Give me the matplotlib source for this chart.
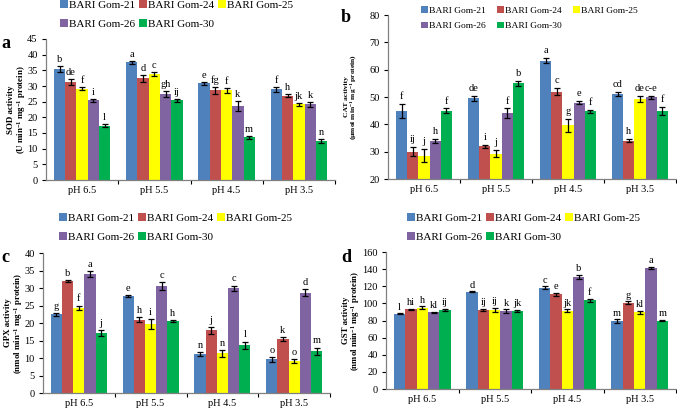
import numpy as np
import matplotlib
matplotlib.use("Agg")
import matplotlib.pyplot as plt

plt.rcParams["font.family"] = ["Liberation Serif", "DejaVu Serif"]
plt.rcParams["mathtext.fontset"] = "custom"
plt.rcParams["mathtext.rm"] = "Liberation Serif:bold"
plt.rcParams["mathtext.it"] = "Liberation Serif:bold"
plt.rcParams["mathtext.bf"] = "Liberation Serif:bold"

groups = ["pH 6.5", "pH 5.5", "pH 4.5", "pH 3.5"]
cultivars = ["BARI Gom-21", "BARI Gom-24", "BARI Gom-25", "BARI Gom-26", "BARI Gom-30"]
colors = ["#4F81BD", "#C0504D", "#FFFF00", "#8064A2", "#00B050"]

# rows = cultivar, columns = pH group
sod = [[35.5, 37.6, 30.8, 28.9],
       [31.3, 32.4, 28.6, 26.9],
       [29.2, 33.9, 28.7, 24.1],
       [25.4, 27.4, 23.6, 24.1],
       [17.3, 25.4, 13.6, 12.5]]
sod_err = [[1.0, 0.5, 0.6, 0.8],
           [1.0, 1.0, 1.0, 0.5],
           [0.4, 0.7, 0.8, 0.4],
           [0.6, 1.0, 1.5, 0.7],
           [0.5, 0.5, 0.6, 0.6]]
sod_sig = [["b", "a", "e", "f"],
           ["de", "d", "fg", "h"],
           ["f", "c", "f", "jk"],
           ["i", "gh", "k", "k"],
           ["l", "ij", "m", "n"]]

cat = [[45.0, 49.5, 63.3, 51.1],
       [30.0, 32.0, 52.0, 34.0],
       [28.5, 29.3, 39.6, 49.2],
       [34.0, 44.0, 47.9, 49.9],
       [45.0, 55.0, 44.8, 44.9]]
cat_err = [[2.6, 1.0, 1.0, 0.9],
           [1.7, 0.6, 1.4, 0.6],
           [2.4, 1.3, 2.3, 1.1],
           [0.8, 1.8, 0.6, 0.5],
           [0.8, 0.8, 0.6, 1.5]]
cat_sig = [["f", "de", "a", "cd"],
           ["ij", "i", "c", "h"],
           ["j", "j", "g", "de"],
           ["h", "f", "e", "c-e"],
           ["f", "b", "f", "f"]]

gpx = [[22.5, 27.7, 11.1, 9.6],
       [32.0, 21.0, 17.9, 15.5],
       [24.4, 19.7, 11.3, 9.2],
       [34.0, 30.5, 29.9, 28.6],
       [17.2, 20.6, 13.6, 12.0]]
gpx_err = [[0.4, 0.4, 0.5, 0.8],
           [0.4, 0.6, 0.9, 0.5],
           [0.6, 1.5, 1.0, 0.5],
           [0.8, 1.2, 0.8, 1.0],
           [0.8, 0.3, 1.1, 1.0]]
gpx_sig = [["g", "e", "n", "o"],
           ["b", "h", "j", "k"],
           ["f", "i", "n", "o"],
           ["a", "c", "c", "d"],
           ["j", "h", "l", "m"]]

gst = [[88.0, 113.5, 118.5, 79.0],
       [93.0, 92.5, 110.5, 101.0],
       [95.0, 92.5, 91.5, 89.5],
       [89.5, 91.0, 131.0, 141.5],
       [92.5, 91.5, 103.5, 80.0]]
gst_err = [[0.5, 0.5, 1.5, 2.5],
           [0.5, 1.0, 1.5, 1.5],
           [1.5, 2.5, 1.5, 1.5],
           [0.5, 2.0, 2.5, 1.5],
           [1.5, 1.0, 1.5, 0.5]]
gst_sig = [["l", "d", "c", "m"],
           ["hi", "ij", "e", "g"],
           ["h", "ij", "jk", "kl"],
           ["kl", "k", "b", "a"],
           ["ij", "jk", "f", "m"]]

W, H = 677, 411
fig = plt.figure(figsize=(W / 100, H / 100), dpi=100)


def px_axes(left, top, right, bottom):
    ax = fig.add_axes([left / W, 1 - bottom / H, (right - left) / W, (bottom - top) / H])
    return ax, left, right - left


def panel(axinfo, vals, errs, sigs, ylim, step, ylabel, letter_off, label_x, label_size):
    ax, left, width = axinfo
    bw = 0.156
    x = np.arange(len(groups))
    for j in range(len(cultivars)):
        xs = x + (j - 2) * bw
        v = np.array(vals[j])
        e = np.array(errs[j])
        ax.bar(xs, v - ylim[0], bw, bottom=ylim[0], color=colors[j], label=cultivars[j])
        ax.errorbar(xs, v, yerr=e, fmt="none", ecolor="black", elinewidth=0.9,
                    capsize=2.2, capthick=0.9)
        for xi, vi, ei, s in zip(xs, v, e, sigs[j]):
            ax.text(xi, vi + ei + letter_off, s, ha="center", va="bottom", fontsize=7.5)
    ax.set_xlim(-0.5, len(groups) - 0.5)
    ax.set_ylim(*ylim)
    ax.set_yticks(np.arange(ylim[0], ylim[1] + 0.1, step))
    ax.set_xticks(x)
    ax.set_xticklabels(groups)
    ax.set_xticks(np.arange(0.5, len(groups), 1.0), minor=True)
    ax.tick_params(axis="x", which="major", length=0, labelsize=7.5, pad=4)
    ax.tick_params(axis="x", which="minor", length=3, width=0.8, direction="out")
    ax.tick_params(axis="y", length=3, width=0.8, labelsize=7.5, pad=3)
    for s in ["top", "right"]:
        ax.spines[s].set_visible(False)
    for s in ["left", "bottom"]:
        ax.spines[s].set_color("#808080")
        ax.spines[s].set_linewidth(0.9)
    ax.set_ylabel(ylabel, fontsize=label_size, fontweight="bold", linespacing=1.0, va="center")
    ax.yaxis.set_label_coords((label_x - left) / width, 0.5)


ax_a = px_axes(46, 39, 335, 180)
panel(ax_a, sod, sod_err, sod_sig, (0, 45), 5,
      "SOD activity\n(U min$^{-1}$ mg$^{-1}$ protein)", 0.6, 17, 6.4)
ax_b = px_axes(388, 15, 676, 179)
panel(ax_b, cat, cat_err, cat_sig, (20, 80), 10,
      "CAT activity\n(\u00b5mol min$^{-1}$ mg$^{-1}$ protein)", 1.0, 351, 5.4)
ax_c = px_axes(43, 253, 330, 393)
panel(ax_c, gpx, gpx_err, gpx_sig, (0, 40), 5,
      "GPX activity\n(nmol min$^{-1}$ mg$^{-1}$ protein)", 0.6, 15, 6.4)
ax_d = px_axes(386, 252, 676, 389)
panel(ax_d, gst, gst_err, gst_sig, (0, 160), 20,
      "GST activity\n(nmol min$^{-1}$ mg$^{-1}$ protein)", 2.0, 352, 6.3)

handles, labels = ax_a[0].get_legend_handles_labels()
# matplotlib fills legend columns first; reorder so rows read 21, 24, 25 / 26, 30
order = [0, 3, 1, 4, 2]
handles = [handles[i] for i in order]
labels = [labels[i] for i in order]
leg_kw = dict(ncol=3, frameon=False, handlelength=0.7, handleheight=0.7,
              handletextpad=0.15, columnspacing=0.3, labelspacing=0.85,
              borderaxespad=0, borderpad=0)
fig.legend(handles, labels, loc="upper left", bbox_to_anchor=(60 / W, 1 - 0 / H),
           prop={"size": 8}, **leg_kw)
fig.legend(handles, labels, loc="upper left", bbox_to_anchor=(59 / W, 1 - 213 / H),
           prop={"size": 8}, **leg_kw)
fig.legend(handles, labels, loc="upper left", bbox_to_anchor=(407 / W, 1 - 213 / H),
           prop={"size": 8}, **leg_kw)
leg_b = dict(leg_kw, columnspacing=1.2, labelspacing=0.75)
fig.legend(handles, labels, loc="upper left", bbox_to_anchor=(421 / W, 1 - 6 / H),
           prop={"size": 6.8}, **leg_b)

for letter, (lx, ly) in zip("abcd", [(1, 48), (341, 22), (1, 262), (341, 262)]):
    fig.text(lx / W, 1 - ly / H, letter, fontsize=13, fontweight="bold", va="baseline")

fig.savefig("out.png", dpi=100)
